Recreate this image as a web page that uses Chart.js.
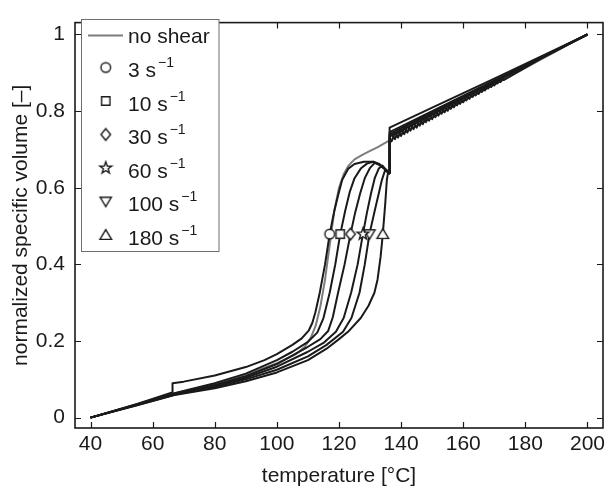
<!DOCTYPE html>
<html>
<head>
<meta charset="utf-8">
<script src="https://cdn.jsdelivr.net/npm/chart.js@4/dist/chart.umd.min.js"></script>
<style>
  html, body { margin: 0; padding: 0; background: #fff; }
  canvas { display: block; }
</style>
</head>
<body>
<canvas id="volumeChart" width="610" height="487"></canvas>
<script>
// data
const xTicks = [40, 60, 80, 100, 120, 140, 160, 180, 200];
const yTicks = [0, 0.2, 0.4, 0.6, 0.8, 1];
const yTickLabels = ['0', '0.2', '0.4', '0.6', '0.8', '1'];

const rates = [3, 10, 30, 60, 100, 180];
const markerT = [117.0, 120.4, 123.7, 127.7, 129.8, 134.1];
const markerV = [0.479, 0.479, 0.479, 0.479, 0.479, 0.479];

// no shear (grey)
const tNo = [40, 55, 67, 80, 90, 100, 106, 109, 111, 112.5, 114, 115.5, 117, 118.5, 120, 121.5, 123, 125, 127.5, 130, 132.5, 135.7, 150, 170, 200];
const vNo = [0, 0.034, 0.063, 0.088, 0.112, 0.142, 0.165, 0.185, 0.21, 0.24, 0.29, 0.36, 0.45, 0.54, 0.6, 0.635, 0.657, 0.674, 0.686, 0.696, 0.706, 0.721, 0.783, 0.869, 1.0];

// 3 1/s
const t3 = [40, 55, 66.3, 66.4, 70, 80, 90, 96, 100, 105, 108, 110.3, 111.4, 112.4, 113.8, 115.5, 117, 118.5, 119.7, 121, 123, 125, 128, 131, 133, 135.3, 136.2, 136.3, 150, 170, 200];
const v3 = [0, 0.036, 0.066, 0.09, 0.094, 0.11, 0.132, 0.15, 0.166, 0.19, 0.207, 0.228, 0.247, 0.275, 0.326, 0.4, 0.479, 0.54, 0.58, 0.62, 0.65, 0.662, 0.668, 0.668, 0.66, 0.645, 0.638, 0.757, 0.809, 0.885, 1.0];

// 10 1/s
const t10 = [40, 55, 67, 80, 90, 100, 105, 110, 113, 115, 117, 118.8, 120.4, 122, 123.5, 125, 127, 129, 131, 133, 135.3, 136.2, 136.3, 150, 170, 200];
const v10 = [0, 0.035, 0.064, 0.09, 0.115, 0.15, 0.172, 0.198, 0.222, 0.26, 0.326, 0.4, 0.479, 0.54, 0.59, 0.625, 0.65, 0.663, 0.668, 0.662, 0.646, 0.638, 0.745, 0.8, 0.88, 1.0];

// 30 1/s
const t30 = [40, 55, 67, 80, 90, 100, 110, 114, 116.5, 118, 119.7, 121.8, 123.7, 125.2, 126.8, 128.3, 130, 131.5, 133, 135.3, 136.2, 136.3, 150, 170, 200];
const v30 = [0, 0.034, 0.062, 0.085, 0.108, 0.14, 0.185, 0.205, 0.226, 0.262, 0.326, 0.4, 0.479, 0.535, 0.585, 0.625, 0.652, 0.665, 0.66, 0.645, 0.638, 0.74, 0.797, 0.878, 1.0];

// 60 1/s
const t60 = [40, 55, 67, 80, 90, 100, 110, 115, 119, 121.5, 123.9, 126, 127.7, 129, 130.3, 131.5, 132.8, 134, 135.3, 136.2, 136.3, 150, 170, 200];
const v60 = [0, 0.034, 0.061, 0.082, 0.104, 0.133, 0.172, 0.195, 0.224, 0.26, 0.326, 0.4, 0.479, 0.535, 0.585, 0.625, 0.65, 0.658, 0.645, 0.638, 0.735, 0.792, 0.875, 1.0];

// 100 1/s (saw-tooth above the jump)
const t100 = [40, 55, 67, 80, 90, 100, 110, 116, 121.3, 124, 126.6, 128.3, 129.8, 131.5, 132.8, 133.8, 134.8, 136.2, 136.3,
  137, 138, 139, 140, 141, 142, 143, 144, 145, 146, 147, 148, 149, 150, 151, 152, 153, 154, 155,
  156, 157, 158, 159, 160, 161, 162, 163, 164, 165, 166, 167, 168, 169, 170, 171, 172, 173, 185, 200];
const v100 = [0, 0.033, 0.06, 0.08, 0.1, 0.125, 0.16, 0.19, 0.224, 0.26, 0.326, 0.4, 0.479, 0.54, 0.585, 0.62, 0.645, 0.638, 0.73,
  0.740, 0.727, 0.748, 0.735, 0.757, 0.744, 0.765, 0.753, 0.773, 0.762, 0.781, 0.771, 0.790, 0.779, 0.798, 0.788, 0.806, 0.797, 0.814,
  0.806, 0.823, 0.815, 0.831, 0.823, 0.839, 0.832, 0.847, 0.841, 0.856, 0.850, 0.864, 0.859, 0.872, 0.867, 0.880, 0.876, 0.889, 0.94, 1.0];

// 180 1/s (saw-tooth, opposite phase)
const t180 = [40, 55, 67, 80, 90, 100, 110, 116, 120, 122.9, 127, 129.5, 131.4, 132.4, 133.4, 134.1, 134.9, 135.4, 135.8, 136.2, 136.3,
  137, 138, 139, 140, 141, 142, 143, 144, 145, 146, 147, 148, 149, 150, 151, 152, 153, 154, 155,
  156, 157, 158, 159, 160, 161, 162, 163, 164, 165, 166, 167, 168, 169, 170, 171, 172, 173, 185, 200];
const v180 = [0, 0.032, 0.059, 0.077, 0.095, 0.118, 0.15, 0.18, 0.205, 0.224, 0.26, 0.292, 0.326, 0.36, 0.42, 0.479, 0.56, 0.62, 0.64, 0.638, 0.718,
  0.722, 0.744, 0.731, 0.752, 0.740, 0.761, 0.749, 0.769, 0.757, 0.777, 0.766, 0.785, 0.775, 0.794, 0.784, 0.802, 0.793, 0.810, 0.801,
  0.819, 0.810, 0.827, 0.819, 0.835, 0.828, 0.843, 0.837, 0.852, 0.845, 0.860, 0.854, 0.868, 0.863, 0.876, 0.872, 0.884, 0.881, 0.937, 1.0];

const curveT = [t3, t10, t30, t60, t100, t180];
const curveV = [v3, v10, v30, v60, v100, v180];

const FONT = '"Liberation Sans", Arial, sans-serif';
const INK = '#1a1a1a';
const GREY = '#7d7d7d';

// marker glyphs (matlab style, white filled)
function makeMarker(shape) {
  const c = document.createElement('canvas');
  c.width = 16; c.height = 16;
  const g = c.getContext('2d');
  g.translate(8, 8);
  g.beginPath();
  if (shape === 'circle') {
    g.arc(0, 0, 4.8, 0, Math.PI * 2);
  } else if (shape === 'square') {
    g.rect(-4.2, -4.2, 8.4, 8.4);
  } else if (shape === 'diamond') {
    g.moveTo(0, -5.8); g.lineTo(4.8, 0); g.lineTo(0, 5.8); g.lineTo(-4.8, 0); g.closePath();
  } else if (shape === 'star') {
    for (let i = 0; i < 10; i++) {
      const r = i % 2 ? 2.5 : 6.2;
      const a = -Math.PI / 2 + i * Math.PI / 5;
      if (i === 0) g.moveTo(r * Math.cos(a), r * Math.sin(a));
      else g.lineTo(r * Math.cos(a), r * Math.sin(a));
    }
    g.closePath();
  } else if (shape === 'down') {
    g.moveTo(-5.6, -4.2); g.lineTo(5.6, -4.2); g.lineTo(0, 5.2); g.closePath();
  } else {
    g.moveTo(-5.8, 4.4); g.lineTo(5.8, 4.4); g.lineTo(0, -5.4); g.closePath();
  }
  g.fillStyle = '#fff';
  g.fill();
  g.lineJoin = 'miter';
  g.strokeStyle = INK;
  g.lineWidth = 1.4;
  g.stroke();
  return c;
}
const markers = ['circle', 'square', 'diamond', 'star', 'down', 'up'].map(makeMarker);

function pts(t, v) {
  return t.map((x, i) => ({ x: x, y: v[i] }));
}

const datasets = [];
// markers on top
rates.forEach((r, i) => {
  datasets.push({
    label: r + ' s-1',
    data: [{ x: markerT[i], y: markerV[i] }],
    showLine: false,
    pointStyle: markers[i],
    pointRadius: 6
  });
});
curveT.forEach((t, i) => {
  datasets.push({
    label: 'curve ' + rates[i],
    data: pts(t, curveV[i]),
    borderColor: INK,
    borderWidth: 2,
    borderJoinStyle: 'round',
    pointRadius: 0,
    tension: 0,
    fill: false
  });
});
// grey one underneath
datasets.push({
  label: 'no shear',
  data: pts(tNo, vNo),
  borderColor: GREY,
  borderWidth: 2,
  borderJoinStyle: 'round',
  pointRadius: 0,
  tension: 0,
  fill: false
});

// box, inward ticks on all sides and the legend
const frameLegend = {
  id: 'frameLegend',
  afterDraw(chart) {
    const c = chart.ctx, a = chart.chartArea;
    const xs = chart.scales.x, ys = chart.scales.y;
    c.save();
    c.strokeStyle = INK;
    c.lineWidth = 1.6;
    c.strokeRect(a.left, a.top, a.right - a.left, a.bottom - a.top);
    c.beginPath();
    xTicks.forEach(v => {
      const p = Math.round(xs.getPixelForValue(v)) + 0.5;
      c.moveTo(p, a.bottom); c.lineTo(p, a.bottom - 6);
      c.moveTo(p, a.top); c.lineTo(p, a.top + 6);
    });
    yTicks.forEach(v => {
      const p = Math.round(ys.getPixelForValue(v)) + 0.5;
      c.moveTo(a.left, p); c.lineTo(a.left + 6, p);
      c.moveTo(a.right, p); c.lineTo(a.right - 6, p);
    });
    c.lineWidth = 1.2;
    c.stroke();

    // legend
    const L = 81.5, T = 19.5, W = 137.5, H = 232;
    c.fillStyle = '#fff';
    c.fillRect(L, T, W, H);
    c.strokeStyle = '#6f6f6f';
    c.lineWidth = 1;
    c.strokeRect(L, T, W, H);

    const rowY = i => 34 + i * 33.5;
    c.fillStyle = INK;
    c.textBaseline = 'alphabetic';
    c.textAlign = 'left';

    c.strokeStyle = GREY;
    c.lineWidth = 2;
    c.beginPath();
    c.moveTo(88, rowY(0) + 1.5);
    c.lineTo(123, rowY(0) + 1.5);
    c.stroke();
    c.font = '21px ' + FONT;
    c.fillText('no shear', 128, rowY(0) + 9);

    rates.forEach((r, i) => {
      const y = rowY(i + 1);
      const m = markers[i];
      c.drawImage(m, 105.7 - m.width / 2, y - m.height / 2);
      c.font = '21px ' + FONT;
      const txt = r + ' s';
      c.fillText(txt, 128, y + 9.5);
      const w = c.measureText(txt).width;
      c.font = '14px ' + FONT;
      c.fillText('\u22121', 128 + w + 2, y - 0.5);
    });
    c.restore();
  }
};

const ctx = document.getElementById('volumeChart').getContext('2d');

new Chart(ctx, {
  type: 'line',
  data: { datasets: datasets },
  options: {
    responsive: false,
    animation: false,
    devicePixelRatio: 1,
    layout: { padding: { top: 14, right: 5, left: 0, bottom: 0 } },
    plugins: {
      legend: { display: false },
      tooltip: { enabled: false }
    },
    scales: {
      x: {
        type: 'linear',
        min: 35,
        max: 205,
        afterFit: s => { s.height = 59; },
        afterBuildTicks: s => { s.ticks = xTicks.map(v => ({ value: v })); },
        grid: { display: false, drawTicks: false },
        border: { display: false },
        ticks: {
          color: INK,
          font: { family: FONT, size: 21 },
          padding: 4,
          maxRotation: 0,
          autoSkip: false
        },
        title: {
          display: true,
          text: 'temperature [°C]',
          color: INK,
          font: { family: FONT, size: 21, lineHeight: 1 },
          padding: { top: 0, bottom: 0 }
        }
      },
      y: {
        type: 'linear',
        min: -0.027,
        max: 1.031,
        afterFit: s => { s.width = 75; },
        afterBuildTicks: s => { s.ticks = yTicks.map(v => ({ value: v })); },
        grid: { display: false, drawTicks: false },
        border: { display: false },
        ticks: {
          color: INK,
          font: { family: FONT, size: 21 },
          padding: 10,
          autoSkip: false,
          callback: (v, i) => yTickLabels[i]
        },
        title: {
          display: true,
          text: 'normalized specific volume [–]',
          color: INK,
          font: { family: FONT, size: 21, lineHeight: 1 },
          padding: { top: 11, bottom: 0 }
        }
      }
    }
  },
  plugins: [frameLegend]
});
</script>
</body>
</html>
